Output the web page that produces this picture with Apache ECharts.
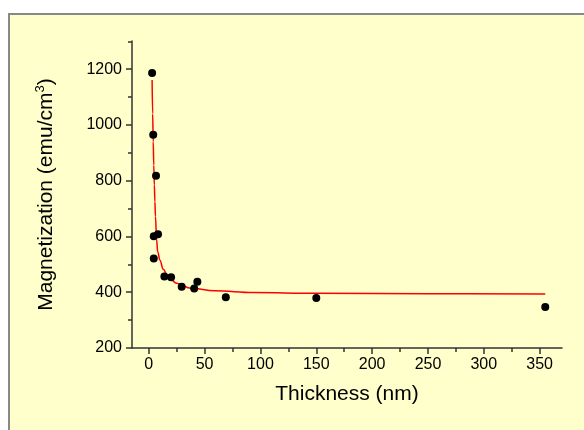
<!DOCTYPE html>
<html>
<head>
<meta charset="utf-8">
<script src="https://cdn.jsdelivr.net/npm/echarts@6/dist/echarts.min.js"></script>
<style>
  html, body { margin: 0; padding: 0; background: #fff; }
  #panel {
    position: absolute; left: 8px; top: 13px; width: 620px; height: 460px;
    background: #ffffcc; border-top: 2px solid #888; border-left: 2px solid #888;
  }
  #main { position: absolute; left: 0; top: 0; width: 584px; height: 430px; }
</style>
</head>
<body>
<div id="panel"></div>
<div id="main"></div>
<script>
// measured points (thickness nm, magnetization emu/cm3)
var thickness = [3, 4, 6.5, 4.5, 8.3, 4.5, 14, 20, 29.5, 40.7, 43.5, 69, 150, 355];
var magnetization = [1186, 965, 818, 601, 608, 521, 456, 454, 420, 413, 438, 382, 379, 347];

// fitted curve
var fitX = [3, 3.5, 4, 4.5, 5, 5.5, 6, 7, 8, 10, 13, 17, 25, 38, 59, 94, 150, 250, 355];
var fitY = [1161, 1040, 940, 855, 785, 725, 672, 590, 545, 515, 482, 457, 432, 414, 405, 399, 396, 395, 394];

var xTicks = [0, 50, 100, 150, 200, 250, 300, 350];
var yTicks = [200, 400, 600, 800, 1000, 1200];

var font = 'Liberation Sans';
var axisColor = '#333';
var plain = function (v) { return String(v); };

var myChart = echarts.init(document.getElementById('main'), null, { renderer: 'canvas' });
myChart.setOption({
  backgroundColor: 'transparent',
  animation: false,
  grid: { left: 132, right: 22, top: 41, bottom: 82, containLabel: false, outerBoundsMode: 'none' },
  xAxis: {
    type: 'value',
    min: -15,
    max: 370,
    minInterval: 50,
    maxInterval: 50,
    splitLine: { show: false },
    axisLine: { onZero: false, lineStyle: { color: axisColor, width: 1.5 } },
    axisTick: { length: 6, customValues: xTicks, lineStyle: { color: axisColor, width: 1.5 } },
    minorTick: { show: true, splitNumber: 2, length: 4, lineStyle: { color: axisColor, width: 1.5 } },
    axisLabel: { customValues: xTicks, formatter: plain, margin: 9, fontSize: 16, fontFamily: font, color: '#000' },
    name: 'Thickness (nm)',
    nameLocation: 'middle',
    nameGap: 36,
    nameTextStyle: { fontSize: 21, fontFamily: font, color: '#000' }
  },
  yAxis: {
    type: 'value',
    min: 200,
    max: 1301,
    interval: 200,
    splitLine: { show: false },
    axisLine: { onZero: false, lineStyle: { color: axisColor, width: 1.5 } },
    axisTick: { length: 6, customValues: yTicks, lineStyle: { color: axisColor, width: 1.5 } },
    minorTick: { show: true, splitNumber: 2, length: 4, lineStyle: { color: axisColor, width: 1.5 } },
    axisLabel: { customValues: yTicks, formatter: plain, margin: 10, fontSize: 16, fontFamily: font, color: '#000' },
    name: 'Magnetization (emu/cm{sup|3})',
    nameLocation: 'middle',
    nameGap: 74,
    nameTextStyle: {
      fontSize: 21, fontFamily: font, color: '#000',
      rich: { sup: { fontSize: 13, fontFamily: font, color: '#000', verticalAlign: 'top', lineHeight: 24 } }
    }
  },
  series: [
    {
      type: 'line',
      data: fitX.map(function (x, i) { return [x, fitY[i]]; }),
      smooth: 0.4,
      smoothMonotone: 'x',
      showSymbol: false,
      lineStyle: { color: '#ff0000', width: 1.5 },
      z: 2
    },
    {
      type: 'scatter',
      data: thickness.map(function (x, i) { return [x, magnetization[i]]; }),
      symbol: 'circle',
      symbolSize: 8,
      itemStyle: { color: '#000', opacity: 1 },
      z: 3
    }
  ]
});
</script>
</body>
</html>
